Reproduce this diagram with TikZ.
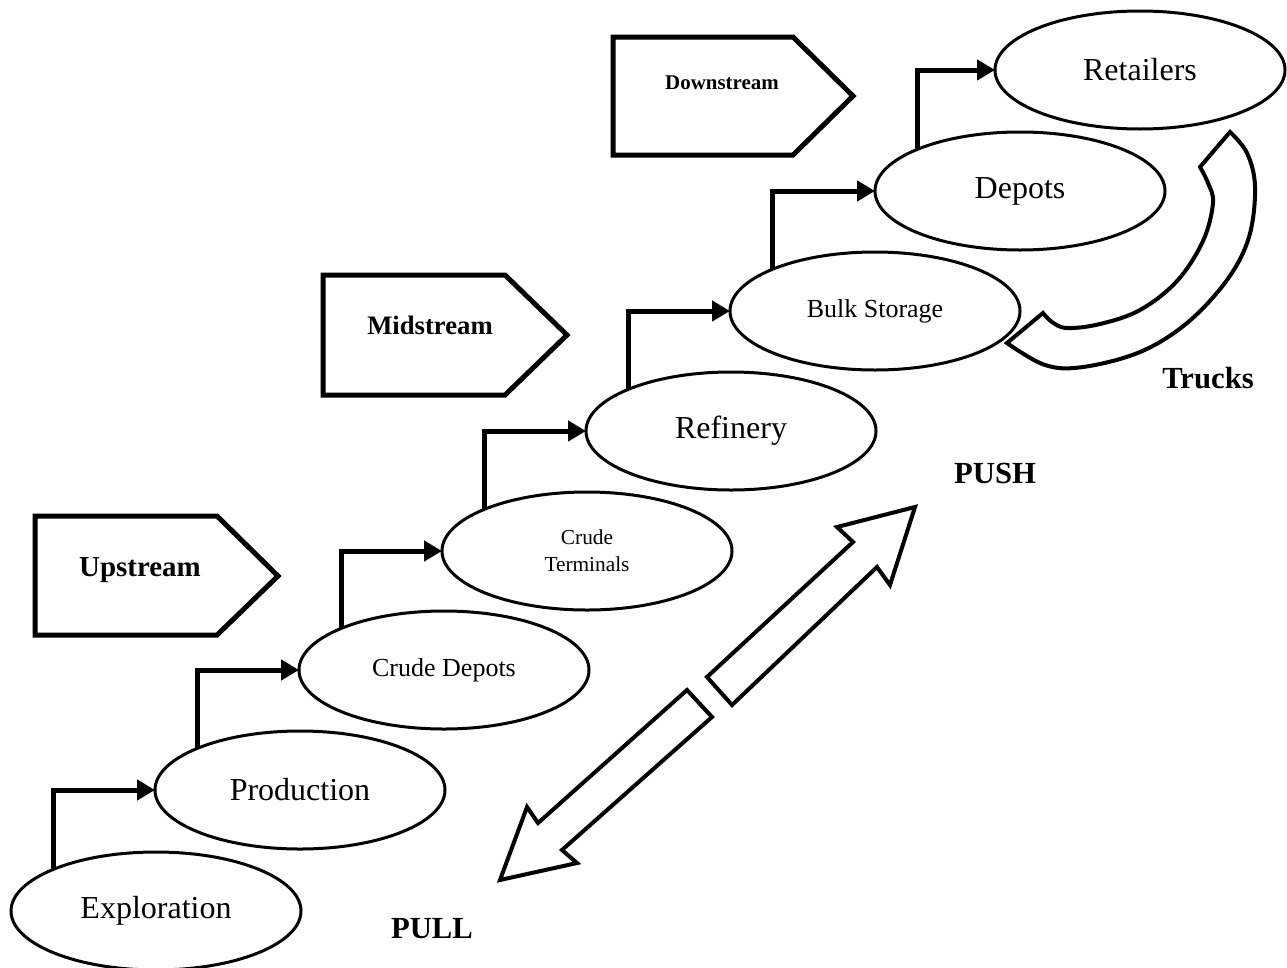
\documentclass[tikz,border=0pt]{standalone}
\usepackage{fontspec}
\setmainfont{Liberation Serif}
\usetikzlibrary{arrows.meta,shapes.geometric}
\begin{document}
\begin{tikzpicture}[x=0.75pt,y=-0.75pt,
  stage/.style={draw, line width=2.25pt, ellipse, minimum width=217.5pt, minimum height=88.5pt,
    inner sep=0pt, outer sep=0pt, align=center, font=\fontsize{24}{28}\selectfont},
  smallstage/.style={stage, font=\fontsize{19.5}{23}\selectfont},
  tinystage/.style={stage, font=\fontsize{16}{20}\selectfont},
  conn/.style={line width=3.75pt, line join=miter, -{Triangle[length=13.5pt,width=15pt]}},
  penta/.style={line width=3.75pt, line join=miter},
  bigarrow/.style={line width=3pt, line join=miter},
  band/.style={line width=3pt, line join=miter},
  plabel/.style={font=\bfseries\fontsize{#1}{#1}\selectfont, inner sep=0pt},
  biglabel/.style={font=\bfseries\fontsize{23}{26}\selectfont, inner sep=0pt}]
\useasboundingbox (0,0) rectangle (1287,967);

% stage pentagons
\draw[penta] (35,516) -- (217,516) -- (278,576) -- (217,635) -- (35,635) -- cycle;
\node[plabel=21.7] (up) at (140,570) {Upstream};
\draw[penta] (323,275) -- (505,275) -- (567,335) -- (505,395) -- (323,395) -- cycle;
\node[plabel=20] (mid) at (430,325) {Midstream};
\draw[penta] (613,37) -- (793,37) -- (853,96) -- (793,155) -- (613,155) -- cycle;
\node[plabel=15.7] (down) at (722,83) {Downstream};

% chain of stages
\node[stage] (exp) at (156,911) {Exploration};
\node[stage] (prod) at (300,790) {Production};
\node[smallstage] (cdep) at (444,670) {Crude Depots};
\node[tinystage] (cterm) at (587,551) {Crude\\Terminals};
\node[stage] (ref) at (731,431) {Refinery};
\node[smallstage] (bulk) at (875,311) {Bulk Storage};
\node[stage] (dep) at (1020,191) {Depots};
\node[stage] (ret) at (1140,70) {Retailers};

\draw[conn] (exp.158) |- (prod.west);
\draw[conn] (prod.158) |- (cdep.west);
\draw[conn] (cdep.158) |- (cterm.west);
\draw[conn] (cterm.158) |- (ref.west);
\draw[conn] (ref.158) |- (bulk.west);
\draw[conn] (bulk.158) |- (dep.west);
\draw[conn] (dep.158) |- (ret.west);

% trucks band
\draw[band] plot[smooth, tension=0.6] coordinates {(1230,132) (1247,153) (1255,187) (1249,237) (1227,280) (1187,323) (1140,352) (1083,367) (1045,365) (1007,343)}
  -- plot[smooth, tension=0.6] coordinates {(1043,313) (1052,322) (1067,328) (1100,324) (1140,310) (1177,281) (1203,241) (1213,203) (1208,183) (1200,167)}
  -- cycle;
\node[biglabel] (trucks) at (1208,378) {Trucks};

% push / pull double arrow
\draw[bigarrow] (915,507) -- (837,527) -- (853,542) -- (707,677) -- (732,705) -- (877,567) -- (890,585) -- cycle;
\draw[bigarrow] (500,880) -- (527,807) -- (538,823) -- (687,690) -- (712,717) -- (562,850) -- (577,863) -- cycle;
\node[biglabel] (push) at (995,473) {PUSH};
\node[biglabel] (pull) at (432,929) {PULL};
\end{tikzpicture}
\end{document}
